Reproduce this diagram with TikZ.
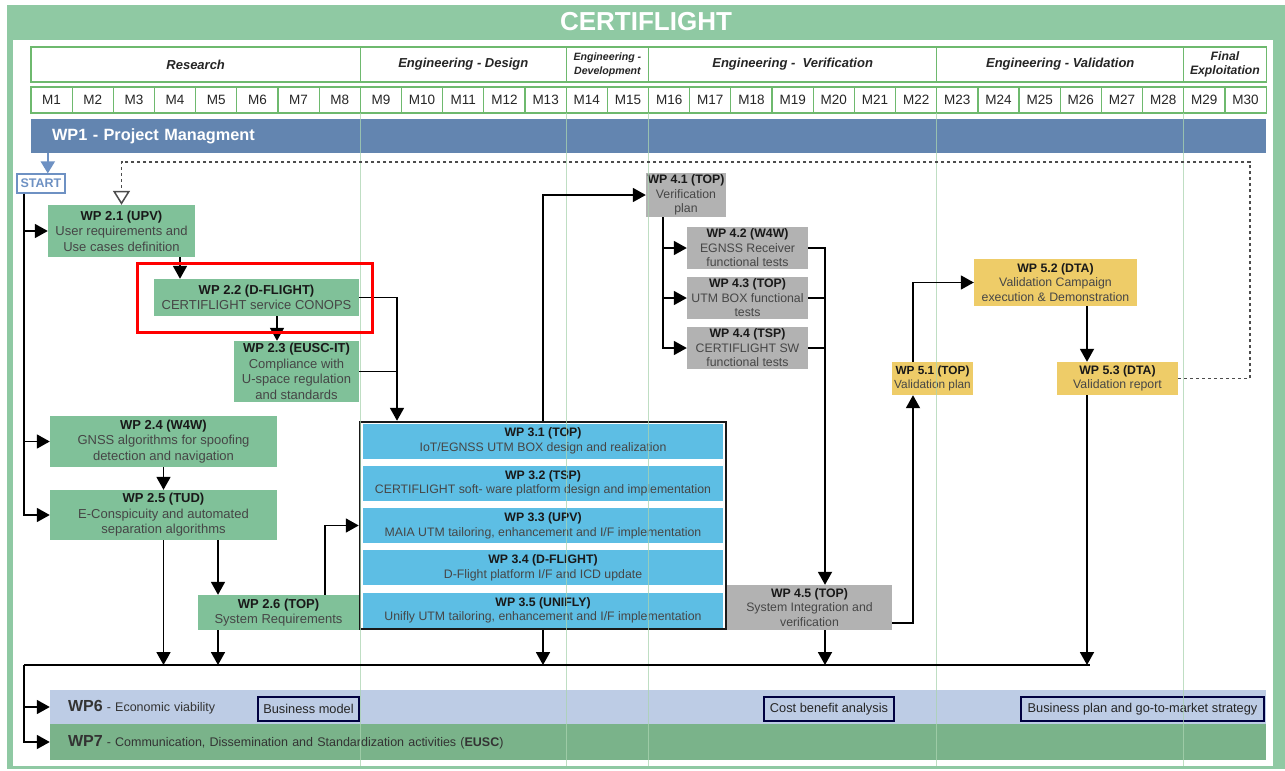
\documentclass[tikz,border=0pt]{standalone}
\usepackage{fontspec}
\setmainfont{Liberation Sans}
\usetikzlibrary{arrows.meta,positioning}
\definecolor{hdgreen}{RGB}{143,201,163}
\definecolor{wpgreen}{RGB}{128,193,153}
\definecolor{wpsgreen}{RGB}{122,179,138}
\definecolor{wpsblue}{RGB}{189,204,229}
\definecolor{pmblue}{RGB}{99,133,176}
\definecolor{wpblue}{RGB}{93,190,228}
\definecolor{wpgrey}{RGB}{178,178,178}
\definecolor{wpyellow}{RGB}{238,204,104}
\definecolor{cellgreen}{RGB}{110,185,110}
\definecolor{gridgreen}{RGB}{170,212,176}
\definecolor{startblue}{RGB}{110,145,195}
\definecolor{txtgrey}{RGB}{70,70,70}
\newcommand{\wpt}[1]{{\bfseries\color{black!90}#1}}
\tikzstyle{phase}=[draw=cellgreen,line width=1.2pt,minimum height=35pt,inner sep=0pt,align=center,text=black!85]
\tikzstyle{month}=[draw=cellgreen,line width=1.2pt,minimum width=41.17pt,minimum height=26pt,inner sep=0pt,font=\fontsize{13.5}{14}\selectfont,text=black!85]
\tikzstyle{wpbox}=[inner sep=0pt,align=center,text=txtgrey,font=\fontsize{12.3}{14.5}\selectfont]
\tikzstyle{wptwo}=[wpbox,fill=wpgreen,font=\fontsize{13}{15.5}\selectfont]
\tikzstyle{wpthree}=[wpbox,fill=wpblue,minimum width=360pt,minimum height=35pt]
\tikzstyle{wpfour}=[wpbox,fill=wpgrey]
\tikzstyle{wpfive}=[wpbox,fill=wpyellow]
\tikzstyle{bar}=[inner sep=0pt,align=left,anchor=center]
\tikzstyle{task}=[draw=black!75!blue,line width=1.3pt,inner sep=0pt,minimum height=24pt,font=\fontsize{12.8}{14}\selectfont,text=black!85]
\tikzstyle{wire}=[line width=1.8pt]
\tikzstyle{conn}=[-{Triangle[length=13pt,width=14pt]},line width=1.8pt]
\tikzstyle{fback}=[-{Triangle[open,length=14pt,width=17pt,line width=1.5pt]},line width=1.6pt,black!70,dash pattern=on 3pt off 3pt]
\tikzstyle{gridln}=[gridgreen,line width=1.3pt,opacity=0.75]

\begin{document}
\begin{tikzpicture}[x=1pt,y=-1pt]
\useasboundingbox (0,0) rectangle (1285,771);
% frame and title
\fill[hdgreen] (7,5) rectangle (1285,769);
\fill[white] (13,40) rectangle (1273,766);
\node[font=\bfseries\fontsize{26}{26}\selectfont,text=white] (title) at (646,22) {CERTIFLIGHT};
% phases and months
\foreach \a/\b/\t/\f in {0/8/Research/13,8/13/Engineering - Design/13,13/15/{Engineering -\\Development}/10.6,15/22/Engineering -\ \ Verification/13,22/28/Engineering - Validation/13,28/30/{Final\\Exploitation}/12.2}
  \node[phase,minimum width={41.17*(\b-\a)},font=\bfseries\itshape\fontsize{\f}{14}\selectfont] (ph\a) at ({31+41.17*(\a+\b)/2},64.5) {\t};
\foreach \i in {1,...,30}
  \node[month] (m\i) at ({31+41.17*(\i-0.5)},100) {M\i};
\node[bar,fill=pmblue,minimum width=1235pt,minimum height=34pt,text width=1193pt,inner xsep=21pt,text=white,font=\bfseries\fontsize{16.3}{18}\selectfont] (wp1) at (648.5,136) {WP1 - Project Managment};
\node[draw=startblue,line width=1.2pt,minimum width=48pt,minimum height=19pt,inner sep=0pt,text=startblue,font=\bfseries\fontsize{12.5}{13}\selectfont] (start) at (41,183.5) {START};
% WP2
\node[wptwo,minimum width=147pt,minimum height=52pt] (wp21) at (121.5,231) {\wpt{WP 2.1 (UPV)}\\User requirements and\\Use cases definition};
\node[wptwo,minimum width=205pt,minimum height=37pt] (wp22) at (256.5,297.5) {\wpt{WP 2.2 (D-FLIGHT)}\\CERTIFLIGHT service CONOPS};
\node[wptwo,minimum width=125pt,minimum height=61pt] (wp23) at (296.5,371.5) {\wpt{WP 2.3 (EUSC-IT)}\\Compliance with\\U-space regulation\\and standards};
\node[wptwo,minimum width=227pt,minimum height=51pt] (wp24) at (163.5,441.5) {\wpt{WP 2.4 (W4W)}\\GNSS algorithms for spoofing\\detection and navigation};
\node[wptwo,minimum width=227pt,minimum height=50pt] (wp25) at (163.5,515) {\wpt{WP 2.5 (TUD)}\\E-Conspicuity and automated\\separation algorithms};
\node[wptwo,minimum width=161pt,minimum height=35pt] (wp26) at (278.5,612.5) {\wpt{WP 2.6 (TOP)}\\System Requirements};
% WP3
\node[draw=black!90,line width=2.5pt,fill=white,minimum width=366pt,minimum height=207pt,inner sep=0pt] (wp3) at (543,525.5) {};
\node[wpthree] (wp31) at (543,441) {\wpt{WP 3.1 (TOP)}\\IoT/EGNSS UTM BOX design and realization};
\node[wpthree] (wp32) at (543,483.3) {\wpt{WP 3.2 (TSP)}\\CERTIFLIGHT soft- ware platform design and implementation};
\node[wpthree] (wp33) at (543,525.6) {\wpt{WP 3.3 (UPV)}\\MAIA UTM tailoring, enhancement and I/F implementation};
\node[wpthree] (wp34) at (543,567.9) {\wpt{WP 3.4 (D-FLIGHT)}\\D-Flight platform I/F and ICD update};
\node[wpthree] (wp35) at (543,610.2) {\wpt{WP 3.5 (UNIFLY)}\\Unifly UTM tailoring, enhancement and I/F implementation};
% WP4
\node[wpfour,minimum width=80pt,minimum height=44pt] (wp41) at (686,195) {\wpt{WP 4.1 (TOP)}\\Verification\\plan};
\node[wpfour,minimum width=121pt,minimum height=42pt] (wp42) at (747.5,248) {\wpt{WP 4.2 (W4W)}\\EGNSS Receiver\\functional tests};
\node[wpfour,minimum width=121pt,minimum height=42pt] (wp43) at (747.5,298) {\wpt{WP 4.3 (TOP)}\\UTM BOX functional\\tests};
\node[wpfour,minimum width=121pt,minimum height=42pt] (wp44) at (747.5,348) {\wpt{WP 4.4 (TSP)}\\CERTIFLIGHT SW\\functional tests};
\node[wpfour,minimum width=165pt,minimum height=45pt] (wp45) at (809.5,607.5) {\wpt{WP 4.5 (TOP)}\\System Integration and\\verification};
% WP5
\node[wpfive,minimum width=81pt,minimum height=33pt,font=\fontsize{11.8}{14.5}\selectfont] (wp51) at (932.5,378.5) {\wpt{WP 5.1 (TOP)}\\Validation plan};
\node[wpfive,minimum width=163pt,minimum height=47pt] (wp52) at (1055.5,282.5) {\wpt{WP 5.2 (DTA)}\\Validation Campaign\\execution \& Demonstration};
\node[wpfive,minimum width=121pt,minimum height=33pt] (wp53) at (1117.5,378.5) {\wpt{WP 5.3 (DTA)}\\Validation report};
% WP6 and WP7
\node[bar,fill=wpsblue,minimum width=1216pt,minimum height=34pt,text width=1180pt,inner xsep=18pt,font=\fontsize{12.5}{14}\selectfont,text=black!80] (wp6) at (658,707) {{\bfseries\fontsize{16}{16}\selectfont WP6} - Economic viability};
\node[bar,fill=wpsgreen,minimum width=1216pt,minimum height=36pt,text width=1180pt,inner xsep=18pt,font=\fontsize{12.5}{14}\selectfont,text=black!80] (wp7) at (658,742) {{\bfseries\fontsize{16}{16}\selectfont WP7} - Communication, Dissemination and Standardization activities ({\bfseries EUSC})};
\node[task,minimum width=101pt] (bm) at (308.5,709) {Business model};
\node[task,minimum width=130pt] (cba) at (829,709) {Cost benefit analysis};
\node[task,minimum width=243pt] (bp) at (1142.5,709) {Business plan and go-to-market strategy};
% month grid
\foreach \k in {8,13,15,22,28} \draw[gridln] ({31+41.17*\k},113) -- ({31+41.17*\k},766);
% connectors
\coordinate (lft) at ([xshift=-17pt]start.south);
\coordinate (busl) at (24,665);\coordinate (busr) at (1090,665);
\coordinate (fbc) at (1250,162);
\draw[-{Triangle[length=12pt,width=14pt]},line width=2pt,startblue] ([xshift=17pt]wp1.south west) -- ([xshift=17pt]wp1.south west |- start.north);
\draw[fback] (wp53.east) -| (fbc) -| (wp21.north);
\draw[conn] (lft) |- (wp25.west);\draw[conn] (lft |- wp21.west) -- (wp21.west);\draw[conn] (lft |- wp24.west) -- (wp24.west);
\draw[conn] ([xshift=58.5pt]wp21.south) -- ([xshift=-76.5pt]wp22.north);
\draw[conn] ([xshift=20.5pt]wp22.south) -- ([xshift=-19.5pt]wp23.north);
\coordinate (j3) at ([xshift=-146pt]wp3.north);
\draw[conn] (wp22.east) -| (j3);\draw[wire] (wp23.east) -- (wp23.east -| j3);
\draw[conn] (wp24.south) -- (wp25.north);
\draw[conn] (wp25.south) -- (wp25.south |- busl);
\draw[conn] ([xshift=54.5pt]wp25.south) -- ([xshift=-60.5pt]wp26.north);
\draw[conn] ([xshift=-60.5pt]wp26.south) -- ([xshift=-60.5pt]wp26.south |- busl);
\draw[conn] ([xshift=46.5pt]wp26.north) |- (wp3.west);
\draw[conn] (wp3.north) |- (wp41.west);
\draw[conn] (wp3.south) -- (wp3.south |- busl);
\coordinate (v4) at ([xshift=-23pt]wp41.south);
\draw[conn] (v4) |- (wp44.west);\draw[conn] (v4 |- wp42.west) -- (wp42.west);\draw[conn] (v4 |- wp43.west) -- (wp43.west);
\coordinate (v45) at ([xshift=15.5pt]wp45.north);
\draw[conn] (wp42.east) -| (v45);\draw[wire] (wp43.east) -- (wp43.east -| v45);\draw[wire] (wp44.east) -- (wp44.east -| v45);
\draw[conn] ([xshift=15.5pt]wp45.south) -- ([xshift=15.5pt]wp45.south |- busl);
\draw[conn] ([yshift=-15.5pt]wp45.east) -| ([xshift=-19.5pt]wp51.south);
\draw[conn] ([xshift=-19.5pt]wp51.north) |- (wp52.west);
\draw[conn] ([xshift=31.5pt]wp52.south) -- ([xshift=-30.5pt]wp53.north);
\draw[conn] ([xshift=-30.5pt]wp53.south) -- ([xshift=-30.5pt]wp53.south |- busl);
\draw[wire] (busl) -- (busr);
\draw[conn] (busl) |- (wp7.west);\draw[conn] (busl |- wp6.west) -- (wp6.west);
% highlight
\node[draw=red,line width=3pt,minimum width=235pt,minimum height=69pt,inner sep=0pt] (hl) at (254.5,298) {};
\end{tikzpicture}
\end{document}
